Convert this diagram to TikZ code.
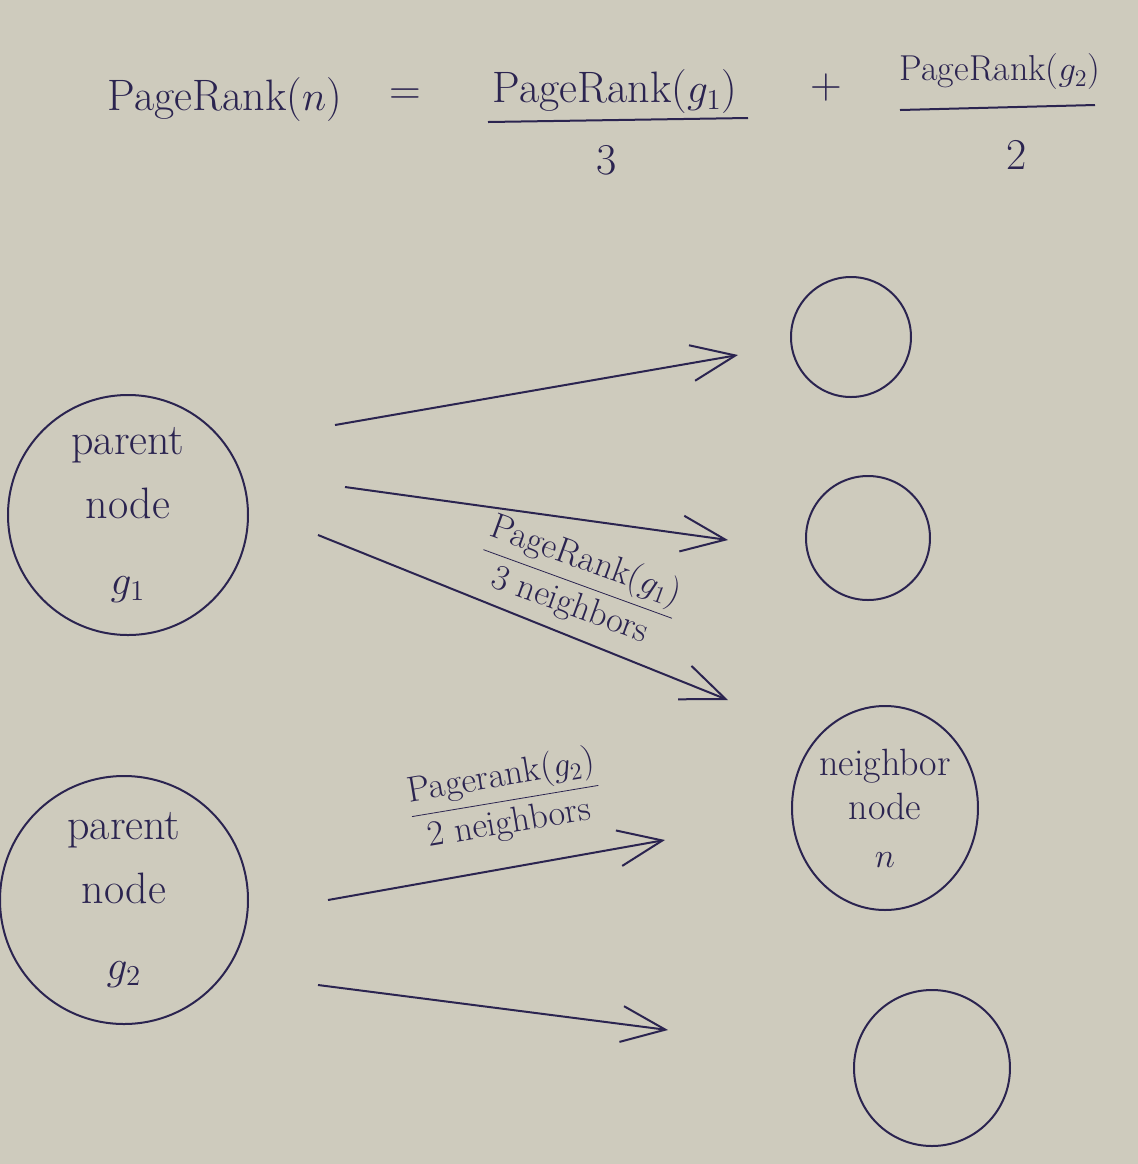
\documentclass[tikz,border=0pt]{standalone}
\usetikzlibrary{arrows.meta,shapes.geometric}
\definecolor{paper}{HTML}{CECBBD}
\definecolor{ink}{HTML}{2B2450}
\tikzset{
  ink/.style={draw=ink,line width=1pt},
  txt/.style={text=ink,inner sep=0pt,font=\fontsize{22}{28}\selectfont},
  bigcirc/.style={ink,circle,text=ink,align=center,inner sep=0pt,font=\fontsize{22}{30}\selectfont},
  smallcirc/.style={ink,circle,inner sep=0pt},
  arr/.style={ink,-{Straight Barb[length=22pt,width=18pt,line width=1pt]}},
  elabel/.style={text=ink,inner sep=0pt,font=\fontsize{18}{22}\selectfont},
}
\begin{document}
\begin{tikzpicture}[x=0.5pt,y=-0.5pt]
\fill[paper] (0,0) rectangle (1138,1164);
\useasboundingbox (0,0) rectangle (1138,1164);

% formula
\node[txt] (lhs) at (225,100) {PageRank($n$)};
\node[txt] (eq) at (405,97) {=};
\node[txt] (num1) at (615,92) {PageRank($g_1$)};
\draw[ink] (488,122) -- (748,118);
\node[txt] (den1) at (607,160) {3};
\node[txt] (plus) at (826,88) {+};
\node[txt,font=\fontsize{18}{22}\selectfont] (num2) at (1000,72) {PageRank($g_2$)};
\draw[ink] (900,110) -- (1095,105);
\node[txt] (den2) at (1017,155) {2};

% nodes
\node[bigcirc,minimum size=120pt] (g1) at (128,515) {parent\\[2pt]node\\[8pt]$g_1$};
\node[bigcirc,minimum size=124pt] (g2) at (124,900) {parent\\[2pt]node\\[8pt]$g_2$};
\node[smallcirc,minimum size=60pt] (c1) at (851,337) {};
\node[smallcirc,minimum size=62pt] (c2) at (868,538) {};
\node[ink,ellipse,minimum width=80pt,minimum height=102pt,inner sep=0pt,text=ink,align=center,
      font=\fontsize{19}{22}\selectfont] (n) at (885,808) {neighbor\\node\\[2pt]$n$};
\node[smallcirc,minimum size=78pt] (c4) at (932,1068) {};

% connector end points
\coordinate (a1s) at (335,425); \coordinate (a1e) at (738,355);
\coordinate (a2s) at (345,487); \coordinate (a2e) at (728,540);
\coordinate (a3s) at (318,535); \coordinate (a3e) at (728,700);
\coordinate (a4s) at (328,900); \coordinate (a4e) at (665,840);
\coordinate (a5s) at (318,985); \coordinate (a5e) at (668,1030);

\draw[arr] (a1s) -- (a1e);
\draw[arr] (a2s) -- (a2e);
\draw[arr] (a3s) -- (a3e);
\draw[arr] (a4s) -- (a4e);
\draw[arr] (a5s) -- (a5e);

% edge labels
\node[elabel,rotate=-20] (l1) at (578,583) {$\displaystyle\frac{\mbox{PageRank($g_1$)}}{\mbox{3 neighbors}}$};
\node[elabel,rotate=9.5] (l2) at (505,800) {$\displaystyle\frac{\mbox{Pagerank($g_2$)}}{\mbox{2 neighbors}}$};
\end{tikzpicture}
\end{document}
